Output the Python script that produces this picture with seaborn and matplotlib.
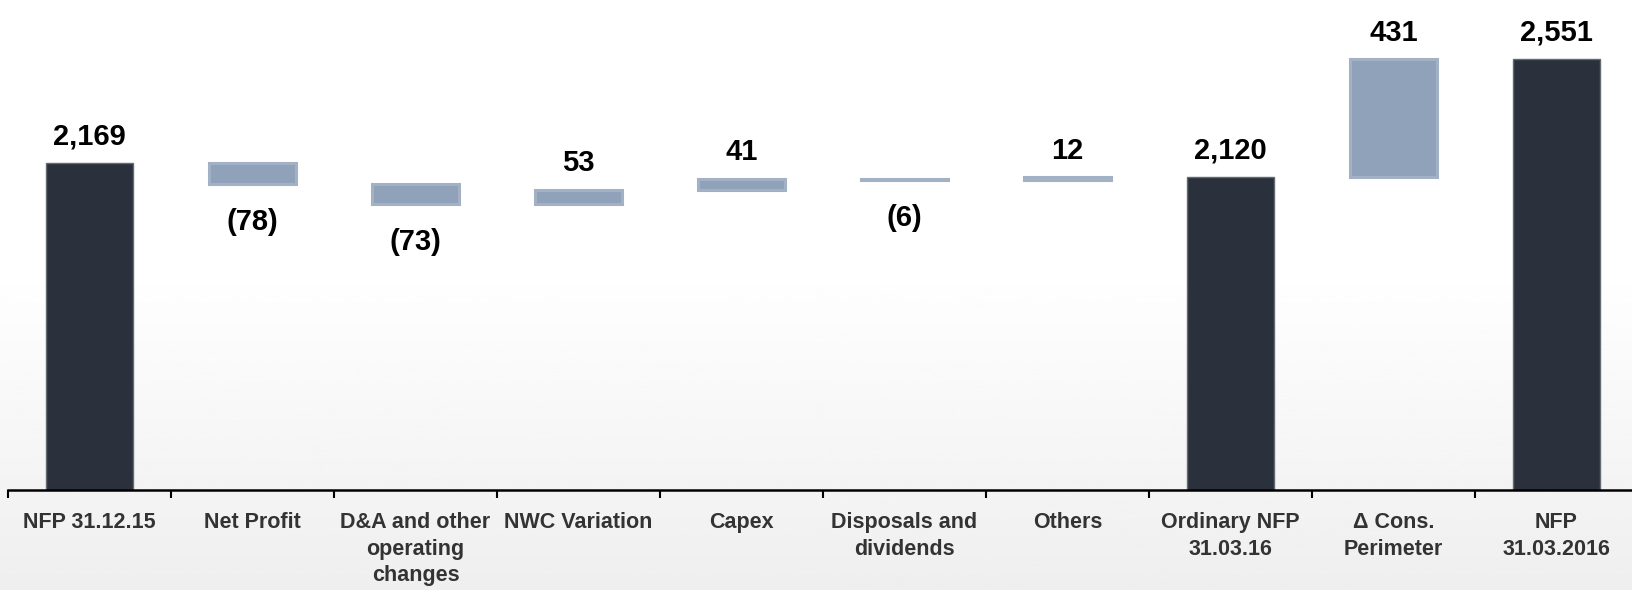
import matplotlib
matplotlib.use("Agg")
import matplotlib.pyplot as plt
import numpy as np
import pandas as pd
import seaborn as sns

categories = ["NFP 31.12.15", "Net Profit", "D&A and other\noperating\nchanges",
              "NWC Variation", "Capex", "Disposals and\ndividends", "Others",
              "Ordinary NFP\n31.03.16", "\u0394 Cons.\nPerimeter", "NFP\n31.03.2016"]
values = [2169, -78, -73, 53, 41, -6, 12, 2120, 431, 2551]
is_total = [True, False, False, False, False, False, False, True, False, True]

sns.set_style("white")
plt.rcParams['font.family'] = ['Liberation Sans', 'DejaVu Sans']

# waterfall: totals stand on the floor, changes float on the running total
bottoms = []
heights = []
running = 0
for v, tot in zip(values, is_total):
    if tot:
        bottoms.append(0)
        heights.append(v)
        running = v
    else:
        bottoms.append(min(running, running + v))
        heights.append(abs(v))
        running += v
tops = [b + h for b, h in zip(bottoms, heights)]

df = pd.DataFrame({"category": categories, "height": heights})

fig = plt.figure(figsize=(16.33, 5.90), dpi=100)

# soft grey gradient behind everything
bg = fig.add_axes([0, 0, 1, 1], zorder=-1)
grad = np.ones((200, 1))
ramp = np.linspace(0, 1, 200)
grad[:, 0] = np.where(ramp < 0.45, 1.0, 1.0 - 0.065 * (ramp - 0.45) / 0.55)
bg.imshow(grad, aspect="auto", cmap="gray", vmin=0, vmax=1, extent=[0, 1, 0, 1])
bg.axis("off")

ax = fig.add_axes([8 / 1633, 100 / 590, 1630 / 1633, 490 / 590])
ax.patch.set_alpha(0)

sns.barplot(data=df, x="category", y="height", order=categories, bottom=bottoms,
            width=0.535, errorbar=None, ax=ax, color="#8fa2ba")

for patch, tot, v in zip(ax.patches, is_total, values):
    if tot:
        patch.set_facecolor("#2b313c")
        patch.set_edgecolor("#646a73")
        patch.set_linewidth(1)
    else:
        patch.set_facecolor("#8fa2ba" if abs(v) > 20 else "#b3bfd1")
        patch.set_edgecolor("#a3b1c4")
        patch.set_linewidth(2.2)

ax.set_ylim(970, 2768)
ax.set_xlim(-0.5, len(categories) - 0.5)

# value labels
for i, (v, tot) in enumerate(zip(values, is_total)):
    if tot or v > 0:
        ax.annotate(f"{v:,}", (i, tops[i]), xytext=(0, 9), textcoords="offset points",
                    ha="center", va="bottom", fontsize=21, fontweight="bold", color="black")
    else:
        ax.annotate(f"({abs(v)})", (i, bottoms[i]), xytext=(0, -17), textcoords="offset points",
                    ha="center", va="top", fontsize=21, fontweight="bold", color="black")

ax.set_xlabel("")
ax.set_ylabel("")
ax.set_yticks([])
for s in ["top", "right", "left"]:
    ax.spines[s].set_visible(False)
ax.spines["bottom"].set_linewidth(1.8)
ax.spines["bottom"].set_color("black")

ax.set_xticks(np.arange(-0.5, len(categories)), minor=True)
ax.tick_params(axis="x", which="major", bottom=False, length=0, pad=16)
ax.tick_params(axis="x", which="minor", bottom=True, length=6, width=1.5,
               color="black", direction="out")
for lbl in ax.get_xticklabels():
    lbl.set_fontsize(15.5)
    lbl.set_fontweight("bold")
    lbl.set_color("#333333")
    lbl.set_linespacing(1.35)

fig.savefig("out.png", dpi=100)
